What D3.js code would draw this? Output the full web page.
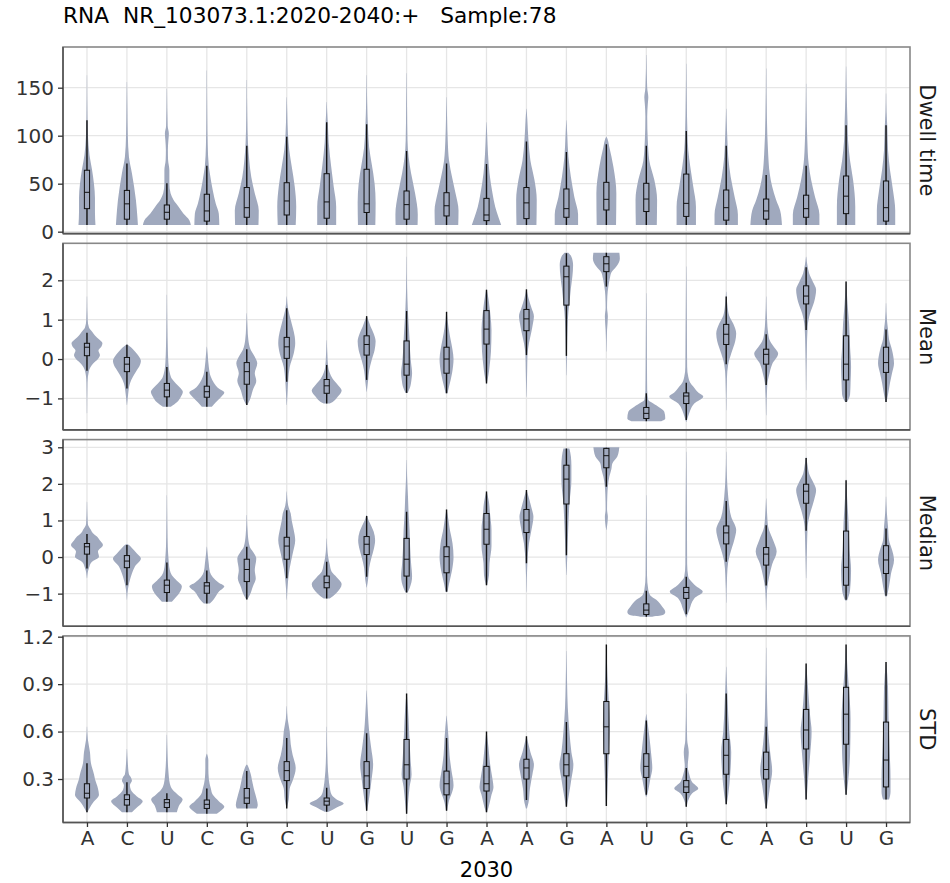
<!DOCTYPE html>
<html>
<head>
<meta charset="utf-8">
<script src="https://cdn.jsdelivr.net/npm/d3@7"></script>
<style>
html,body{margin:0;padding:0;background:#fff;}
svg{display:block;font-family:"DejaVu Sans",sans-serif;}
</style>
</head>
<body>
<svg id="chart" width="950" height="883"></svg>
<script>
// ---------------- DATA ----------------
const titleText = "RNA  NR_103073.1:2020-2040:+   Sample:78";
const xTitle = "2030";
const bases = ["A","C","U","C","G","C","U","G","U","G","A","A","G","A","U","G","C","A","G","U","G"];
const facetNames = ["Dwell time","Mean","Median","STD"];

const dwellTicks = [0,50,100,150];
const meanTicks = [-1,0,1,2];
const medianTicks = [-1,0,1,2,3];
const stdTicks = [0.3,0.6,0.9,1.2];

// box stats: [lower whisker, q1, median, q3, upper whisker]
const dwellBox = [
 [7,24,41,64,116],[7,13,29,43,71],[7,13,20.2,27.8,50.4],[7,11,21.6,39,68.8],[7,15,25,46,89.6],
 [7,17.4,32,51,99],[7,14,31,60.4,114],[7,20,29,65,112],[7,13,28.2,42.4,84],[7,16.4,27,40.6,71],
 [7,11.5,17.4,34.7,70.5],[7,13.6,30,46,94],[7,15,24,44.5,83],[7,22.6,33.7,51.4,91],[7,21,34,50.4,89.6],
 [7,15.9,29.5,60,105],[7,12,25,43.4,89.6],[7,13,21.6,34,59],[7,15,24,38,68.8],[7,18.8,37,58,111],[7,11,25,52.8,111]
];
const meanBox = [
 [-0.3,0.085,0.3,0.4,0.67],[-0.75,-0.32,-0.13,0.04,0.36],[-1.21,-0.96,-0.79,-0.62,-0.2],[-1.21,-0.97,-0.83,-0.69,-0.32],
 [-1.17,-0.64,-0.32,-0.09,0.25],[-0.58,0.017,0.31,0.55,1.29],[-1.13,-0.87,-0.68,-0.52,-0.15],[-0.53,0.1,0.37,0.59,1.09],
 [-0.86,-0.41,-0.13,0.46,1.22],[-0.87,-0.36,0,0.3,1.2],[-0.62,0.38,0.76,1.23,1.76],[0.1,0.72,1.02,1.26,1.77],
 [0.08,1.37,2.09,2.36,2.69],[1.84,2.22,2.42,2.6,2.7],[-1.58,-1.51,-1.38,-1.23,-0.87],[-1.55,-1.13,-0.94,-0.86,-0.6],
 [-0.13,0.37,0.63,0.88,1.59],[-0.66,-0.13,0.12,0.25,0.63],[0.74,1.4,1.6,1.86,2.33],[-1.09,-0.53,-0.13,0.59,1.97],[-1.09,-0.34,-0.09,0.3,0.75]
];
const medianBox = [
 [-0.31,0.08,0.28,0.37,0.63],[-0.77,-0.29,-0.11,0.04,0.33],[-1.22,-0.97,-0.77,-0.63,-0.15],[-1.27,-0.99,-0.79,-0.7,-0.37],
 [-1.16,-0.67,-0.34,-0.06,0.28],[-0.58,-0.06,0.3,0.54,1.28],[-1.13,-0.84,-0.7,-0.52,-0.13],[-0.54,0.07,0.35,0.56,1.12],
 [-0.97,-0.52,-0.06,0.51,1.24],[-0.95,-0.43,0.01,0.28,1.3],[-0.77,0.35,0.76,1.19,1.79],[-0.17,0.67,1.01,1.3,1.83],
 [0.05,1.45,2.13,2.51,2.97],[1.92,2.44,2.77,2.97,2.99],[-1.63,-1.57,-1.45,-1.28,-0.92],[-1.56,-1.13,-0.97,-0.83,-0.54],
 [-0.13,0.36,0.66,0.85,1.53],[-0.78,-0.22,0.08,0.26,0.87],[0.72,1.47,1.8,1.99,2.71],[-1.17,-0.77,-0.28,0.71,2.1],[-1.06,-0.45,-0.08,0.31,0.78]
];
const stdBox = [
 [0.09,0.18,0.21,0.27,0.4],[0.09,0.135,0.17,0.2,0.28],[0.09,0.12,0.15,0.17,0.21],[0.08,0.114,0.14,0.167,0.24],
 [0.114,0.146,0.18,0.24,0.35],[0.114,0.29,0.353,0.41,0.56],[0.093,0.135,0.16,0.18,0.245],[0.1,0.24,0.32,0.41,0.59],
 [0.08,0.3,0.39,0.55,0.84],[0.1,0.2,0.27,0.35,0.56],[0.09,0.224,0.27,0.38,0.6],[0.167,0.3,0.37,0.425,0.57],
 [0.125,0.32,0.39,0.46,0.66],[0.13,0.46,0.63,0.79,1.15],[0.2,0.31,0.38,0.46,0.67],[0.125,0.215,0.25,0.29,0.37],
 [0.14,0.33,0.45,0.55,0.84],[0.114,0.3,0.36,0.47,0.63],[0.17,0.49,0.61,0.74,1.03],[0.2,0.52,0.71,0.88,1.15],[0.17,0.25,0.42,0.66,1.04]
];

// violin outlines: [value, relative density] knots from bottom to top
const dwellViolin = [
 [[7,8.5],[20,8],[35,8],[50,7],[65,5],[80,2.5],[100,1],[120,0.5],[163,0.15]],
 [[7,11],[15,10.5],[33,9],[61,5],[78,2],[100,0.9],[130,0.45],[156,0.15]],
 [[7,24],[12,22.5],[18.7,16.7],[26,11.7],[33,6.7],[40,3.7],[50,2.5],[64,2.5],[75,1.2],[85,1],[95,1.5],[102,2],[110,0.8],[149,0.15]],
 [[7,12.5],[18.7,12],[29,9],[43,6],[61,3],[68,2],[90,0.9],[120,0.45],[168,0.15]],
 [[7,11.7],[22,12],[40,8],[57,4.5],[74,2.5],[92,1.2],[120,0.5],[158,0.15]],
 [[7,9],[26,9.5],[47,8],[68,5],[85,2.5],[102,1.2],[125,0.5],[140,0.15]],
 [[7,9.5],[26,9.5],[47,7],[68,4.5],[93,2],[112,1.2],[125,0.5],[135,0.15]],
 [[7,8.7],[30,9],[50,8],[71,5],[88,2.5],[109,1.3],[135,0.5],[163,0.15]],
 [[7,11],[18,11.2],[40,8.5],[61,4.5],[78,2],[95,0.9],[130,0.45],[165,0.15]],
 [[7,11.7],[22,12],[40,9],[57,5.5],[74,2.5],[95,1.2],[120,0.5],[140,0.15]],
 [[7,14.7],[15,12],[26,8.7],[40,6],[61,3],[81,1.5],[100,0.7],[114,0.15]],
 [[7,10],[33,10.3],[54,8],[74,4],[95,2],[116,0.9],[128,0.15]],
 [[7,11.7],[18,11.7],[36,8],[57,4.5],[78,2],[100,0.9],[116,0.15]],
 [[7,9.7],[40,10],[68,7],[88,3],[97,1],[99,0.15]],
 [[7,10.5],[33,10.8],[54,8],[74,3],[95,1.5],[120,0.9],[133,1.5],[140,2],[150,0.9],[184,0.15]],
 [[7,9.7],[26,9.7],[47,7],[68,4],[85,2],[102,1.2],[140,0.5],[175,0.15]],
 [[7,11.7],[18,11.7],[36,8.5],[57,4.5],[78,2],[95,1.2],[115,0.5],[128,0.15]],
 [[7,15.8],[22,14],[33,10],[47,6],[61,3.5],[81,2],[120,0.7],[170,0.15]],
 [[7,13.3],[18,13.3],[36,9],[54,5],[71,2.5],[95,1.2],[125,0.5],[154,0.15]],
 [[7,9.2],[26,9.2],[54,7],[74,4],[95,2],[112,1.5],[140,0.7],[172,0.15]],
 [[7,9.2],[22,9.2],[43,7],[64,4],[85,2],[109,1.3],[125,0.5],[144,0.15]]
];
const meanViolin = [
 [[-1.38,0.15],[-0.6,0.5],[-0.3,2],[-0.12,6],[0,11],[0.1,13],[0.22,11.5],[0.32,14.5],[0.4,15.5],[0.5,12],[0.6,8],[0.7,5],[0.8,2],[1.0,0.7],[1.59,0.15]],
 [[-1.17,0.15],[-0.9,1.2],[-0.62,3],[-0.45,6],[-0.32,9],[-0.15,13],[-0.05,14],[0.1,11],[0.25,6],[0.3,4],[0.37,0.5]],
 [[-1.21,4],[-1.1,10],[-0.96,14],[-0.83,16],[-0.72,13],[-0.62,9],[-0.5,5],[-0.36,3],[-0.1,1.5],[0.31,0.9],[0.8,0.5],[1.63,0.15]],
 [[-1.21,5],[-1.1,9],[-0.97,14],[-0.85,17.5],[-0.75,12],[-0.6,7],[-0.45,4],[-0.2,2],[0.1,0.9],[0.31,0.15]],
 [[-1.17,0.5],[-1.04,3],[-0.79,6],[-0.55,9.5],[-0.36,8],[-0.11,10.5],[0.1,7],[0.23,4],[0.5,1.5],[0.8,0.7],[1.16,0.15]],
 [[-1.17,0.15],[-0.8,0.9],[-0.53,1.5],[-0.2,3],[0.14,7],[0.4,8.5],[0.57,8],[0.8,6],[1.0,4],[1.25,1.5],[1.59,0.15]],
 [[-1.13,3],[-1.09,6],[-0.96,11],[-0.8,15],[-0.65,11],[-0.5,6],[-0.35,3],[-0.2,1.5],[0.1,0.7],[0.48,0.15]],
 [[-0.83,0.15],[-0.53,1.5],[-0.3,2.5],[-0.03,5],[0.23,8],[0.45,9],[0.65,7],[0.82,4],[1.0,1.5],[1.08,0.15]],
 [[-0.86,1],[-0.75,3],[-0.5,5],[-0.36,5.5],[-0.1,4.5],[0.2,3.5],[0.48,3],[0.9,2],[1.33,1.1],[1.8,0.5],[2.6,0.15]],
 [[-0.87,1],[-0.7,2.5],[-0.36,5.5],[0,7],[0.23,6],[0.5,4],[0.8,2],[1.2,0.15]],
 [[-0.64,0.15],[-0.4,2],[-0.2,3],[0.2,4.5],[0.74,5],[1.1,4],[1.33,3],[1.6,1.5],[1.77,0.15]],
 [[-0.96,0.15],[-0.3,0.7],[0.1,1],[0.4,2.5],[0.7,5],[0.9,6.5],[1.08,7.5],[1.3,5],[1.55,2],[1.77,0.15]],
 [[-0.41,0.15],[0.3,0.7],[0.8,1.2],[1.2,2],[1.42,3],[1.8,4.5],[2.1,6],[2.39,6.7],[2.6,5],[2.7,2]],
 [[0.19,0.15],[0.74,0.7],[1.08,1.5],[1.3,0.7],[1.6,1],[1.84,2],[2.05,3.5],[2.2,5],[2.35,10],[2.55,13.5],[2.7,13]],
 [[-1.58,15],[-1.51,19],[-1.34,18],[-1.21,12],[-1.1,5],[-1.04,2],[-0.8,0.9],[-0.3,0.7],[0.5,0.5],[1.67,0.15]],
 [[-1.6,0.15],[-1.45,2],[-1.3,4],[-1.13,8],[-0.95,17],[-0.85,12],[-0.7,7],[-0.6,4],[-0.45,2],[-0.2,0.9],[0.5,0.7],[1.2,0.5],[2.35,0.15]],
 [[-1.3,0.15],[-0.5,0.7],[-0.13,2],[0.14,5],[0.45,9],[0.65,10],[0.9,7],[1.1,3],[1.3,1.5],[1.71,0.15]],
 [[-1.43,0.15],[-0.66,1.1],[-0.4,3],[-0.13,6],[0.14,12],[0.3,8],[0.45,4],[0.65,2],[1.0,0.9],[1.59,0.15]],
 [[-0.79,0.15],[0.2,0.7],[0.82,1.5],[1.16,4],[1.45,8],[1.76,10],[1.95,7],[2.18,3],[2.35,1.5],[2.6,0.15]],
 [[-1.09,1],[-0.9,4],[-0.6,4.5],[-0.2,5],[0.3,4],[0.91,3],[1.4,1.5],[1.97,0.15]],
 [[-1.09,0.5],[-0.9,2],[-0.6,4],[-0.36,6],[-0.11,8],[0.23,6],[0.5,3],[0.75,2],[1.0,0.9],[1.42,0.15]]
];
const medianViolin = [
 [[-0.58,0.15],[-0.3,2],[-0.13,5],[0.01,12],[0.15,11],[0.33,16],[0.45,13],[0.56,10],[0.65,6],[0.74,4],[0.9,0.9],[1.51,0.15]],
 [[-1.17,0.15],[-0.8,1.5],[-0.63,3],[-0.45,5],[-0.26,8],[-0.04,14],[0.1,10],[0.25,5],[0.33,2],[0.36,0.15]],
 [[-1.22,5],[-1.1,9],[-1.0,12],[-0.8,15],[-0.65,10],[-0.5,5],[-0.36,3],[0,1.5],[0.28,0.9],[0.8,0.5],[1.69,0.15]],
 [[-1.27,3],[-1.15,7],[-0.95,12],[-0.8,17.5],[-0.7,12],[-0.55,6],[-0.4,3],[-0.2,2],[0.28,0.15]],
 [[-1.16,0.5],[-1.04,3],[-0.81,6],[-0.58,9],[-0.36,8],[-0.04,9.5],[0.15,6],[0.28,3],[0.6,1.1],[1.15,0.15]],
 [[-1.17,0.15],[-0.6,1.5],[-0.3,3],[0.1,6],[0.46,8.5],[0.74,7],[1.0,5],[1.19,4],[1.4,1.5],[1.79,0.15]],
 [[-1.13,3],[-1.0,9],[-0.74,15],[-0.55,10],[-0.4,5],[-0.2,3],[0,1.5],[0.51,0.15]],
 [[-0.83,0.15],[-0.6,1.5],[-0.3,2.5],[0,5],[0.2,7],[0.46,8.5],[0.7,7],[0.83,5],[1.0,2],[1.15,0.15]],
 [[-0.97,1],[-0.85,3],[-0.54,5.5],[-0.17,4.5],[0.3,3.5],[0.74,3],[1.2,2],[1.65,1.4],[2.2,0.5],[2.65,0.15]],
 [[-0.95,1],[-0.73,2.5],[-0.36,5.5],[0,7],[0.37,6],[0.8,3],[1.0,2],[1.3,0.15]],
 [[-0.77,0.5],[-0.5,2.5],[-0.17,3],[0.3,5],[0.74,5],[1.2,3.5],[1.5,2.5],[1.8,0.15]],
 [[-0.95,0.15],[-0.17,0.9],[0.37,2.5],[0.74,5],[1.1,7],[1.3,5.5],[1.46,4],[1.83,0.15]],
 [[-0.49,0.15],[0.05,0.9],[0.9,2],[1.45,3],[2.1,5],[2.5,5],[2.75,4.5],[2.97,3]],
 [[0.74,0.15],[1.1,1.5],[1.3,0.7],[1.7,1],[1.92,1.5],[2.2,3],[2.4,5],[2.56,6],[2.75,11],[2.9,12.5],[3.0,13]],
 [[-1.63,6],[-1.58,17],[-1.5,19],[-1.36,16],[-1.17,10],[-1.05,4],[-0.9,2],[-0.5,0.7],[0.5,0.5],[1.69,0.15]],
 [[-1.65,0.15],[-1.45,3],[-1.13,8],[-0.95,16.5],[-0.8,10],[-0.72,7],[-0.54,2],[-0.2,0.9],[1.0,0.7],[2.88,0.15]],
 [[-1.25,0.15],[-0.5,0.9],[-0.13,2],[0.1,4],[0.46,8],[0.74,10],[1.1,5],[1.65,2],[2.2,0.7],[2.88,0.15]],
 [[-1.45,0.15],[-0.9,0.9],[-0.54,3],[-0.2,6],[0.15,10.5],[0.46,7],[0.83,2],[1.2,0.9],[1.6,0.15]],
 [[-0.58,0.15],[0.3,0.9],[0.83,1.5],[1.19,4],[1.56,8],[1.83,10],[2.05,7],[2.28,3],[2.5,1.5],[2.74,0.15]],
 [[-1.19,1],[-0.9,4],[-0.36,5],[0.2,3.5],[0.95,2.5],[1.6,1.1],[2.12,0.15]],
 [[-1.08,1],[-0.8,3],[-0.45,5],[-0.08,8],[0.2,6],[0.46,3],[0.83,2],[1.2,0.9],[1.65,0.15]]
];
const stdViolin = [
 [[0.09,0.5],[0.12,3],[0.15,6],[0.2,12],[0.24,11],[0.3,8],[0.33,7],[0.4,4],[0.47,3],[0.55,0.9],[0.63,0.15]],
 [[0.09,5],[0.12,10],[0.16,15.8],[0.19,10],[0.23,4],[0.26,3],[0.29,5],[0.31,4],[0.33,2],[0.4,0.9],[0.49,0.15]],
 [[0.09,10],[0.13,12],[0.17,15.8],[0.2,11],[0.23,6],[0.27,3],[0.35,1.5],[0.45,0.7],[0.58,0.15]],
 [[0.08,10],[0.1,14],[0.125,17.5],[0.16,12],[0.2,6],[0.24,4],[0.3,2],[0.37,1.5],[0.42,1.5],[0.46,0.15]],
 [[0.114,10],[0.135,11],[0.17,10],[0.24,7],[0.3,5],[0.33,4],[0.37,2],[0.39,0.5]],
 [[0.114,0.15],[0.17,2],[0.24,3],[0.29,6],[0.37,9],[0.45,6],[0.52,4],[0.6,3],[0.68,0.9],[0.76,0.15]],
 [[0.093,2],[0.12,10],[0.145,17],[0.17,10],[0.2,5],[0.25,3],[0.3,2],[0.4,0.9],[0.63,0.15]],
 [[0.1,0.5],[0.2,3],[0.3,5],[0.39,6.5],[0.5,4.5],[0.6,2.5],[0.7,1.4],[0.86,0.15]],
 [[0.08,0.5],[0.15,1.5],[0.25,3],[0.33,5],[0.42,4],[0.6,2.5],[0.75,1.4],[0.84,0.15]],
 [[0.1,0.5],[0.15,2],[0.26,7],[0.35,5],[0.45,3],[0.56,2],[0.7,0.15]],
 [[0.09,0.5],[0.12,2],[0.2,5],[0.25,7],[0.3,6],[0.4,3.5],[0.5,2],[0.6,0.15]],
 [[0.114,0.5],[0.15,2],[0.24,3.5],[0.33,6],[0.39,7.5],[0.47,4],[0.57,0.15]],
 [[0.125,0.5],[0.2,2.5],[0.3,5],[0.39,7],[0.47,5],[0.6,3],[0.75,1.4],[0.9,0.7],[1.11,0.15]],
 [[0.13,0.5],[0.3,1.5],[0.47,2.5],[0.64,3.5],[0.79,2.5],[0.95,1.1],[1.15,0.15]],
 [[0.19,0.5],[0.23,2],[0.3,4],[0.37,6],[0.45,5],[0.57,3],[0.71,0.15]],
 [[0.125,0.5],[0.18,3],[0.21,6],[0.24,12],[0.28,6],[0.33,3],[0.38,1.5],[0.47,2.5],[0.55,0.9],[0.84,0.15]],
 [[0.14,0.5],[0.2,2],[0.33,4],[0.47,5],[0.6,3],[0.8,1.4],[1.01,0.15]],
 [[0.114,0.5],[0.17,2],[0.26,4],[0.35,6],[0.47,4],[0.6,2],[0.8,0.9],[1.13,0.15]],
 [[0.17,0.5],[0.3,2],[0.45,4],[0.6,5.5],[0.7,4],[0.87,2],[1.03,0.15]],
 [[0.2,0.5],[0.28,2],[0.46,4],[0.68,4.5],[0.86,3],[1.0,1.4],[1.15,0.15]],
 [[0.17,3],[0.22,4.5],[0.3,4.5],[0.5,3.5],[0.7,2.5],[0.88,2],[1.04,0.15]]
];

// ---------------- LAYOUT ----------------
const svg = d3.select("#chart");
const left = 63, right = 910, top0 = 47, bottomAll = 822.5, gap = 9.7;
const ph = (bottomAll - top0 - 3 * gap) / 4;

const facets = [
  {name: facetNames[0], box: dwellBox, vio: dwellViolin, ticks: dwellTicks, domain: [-2, 192.4], fmt: d3.format("d")},
  {name: facetNames[1], box: meanBox, vio: meanViolin, ticks: meanTicks, domain: [-1.80, 2.94], fmt: d3.format("d")},
  {name: facetNames[2], box: medianBox, vio: medianViolin, ticks: medianTicks, domain: [-1.89, 3.21], fmt: d3.format("d")},
  {name: facetNames[3], box: stdBox, vio: stdViolin, ticks: stdTicks, domain: [0.025, 1.205], fmt: d3.format(".1f")}
];

const idx = d3.range(bases.length);
const x = d3.scalePoint().domain(idx).range([left, right]).padding(0.6);
const wScale = d3.scaleLinear().domain([0, 40]).range([0, x.step()]);
const boxHalf = x.step() * 0.065;

const violinFill = "#a0a9be";
const gridColor = "#e6e6e6";
const textColor = "#333333";

// vertical grid lines spanning all facets
svg.append("g").selectAll("line").data(idx).join("line")
  .attr("x1", d => x(d)).attr("x2", d => x(d))
  .attr("y1", top0).attr("y2", bottomAll)
  .attr("stroke", gridColor).attr("stroke-width", 1.3);

facets.forEach((f, fi) => {
  const pt = top0 + fi * (ph + gap), pb = pt + ph;
  const y = d3.scaleLinear().domain(f.domain).range([pb, pt]);
  const g = svg.append("g");

  // horizontal grid
  g.selectAll("line.hg").data(f.ticks).join("line").attr("class", "hg")
    .attr("x1", left).attr("x2", right)
    .attr("y1", d => y(d)).attr("y2", d => y(d))
    .attr("stroke", gridColor).attr("stroke-width", 1.3);

  const clipId = "clip" + fi;
  svg.append("clipPath").attr("id", clipId).append("rect")
    .attr("x", left).attr("y", pt).attr("width", right - left).attr("height", ph);
  const marks = g.append("g").attr("clip-path", `url(#${clipId})`);

  // violins
  f.vio.forEach((knots, i) => {
    const cx = x(i);
    const area = d3.area()
      .curve(d3.curveMonotoneY)
      .y(d => y(d[0]))
      .x0(d => cx - wScale(d[1]))
      .x1(d => cx + wScale(d[1]));
    marks.append("path").attr("d", area(knots))
      .attr("fill", violinFill);
  });

  // boxes
  f.box.forEach((b, i) => {
    const cx = x(i);
    const bg = marks.append("g");
    bg.append("line").attr("x1", cx).attr("x2", cx).attr("y1", y(b[0])).attr("y2", y(b[1]))
      .attr("stroke", "#111").attr("stroke-width", 1.4);
    bg.append("line").attr("x1", cx).attr("x2", cx).attr("y1", y(b[3])).attr("y2", y(b[4]))
      .attr("stroke", "#111").attr("stroke-width", 1.4);
    bg.append("rect").attr("x", cx - boxHalf).attr("width", boxHalf * 2)
      .attr("y", y(b[3])).attr("height", Math.max(0.5, y(b[1]) - y(b[3])))
      .attr("fill", "none").attr("stroke", "#111").attr("stroke-width", 1);
    bg.append("line").attr("x1", cx - boxHalf).attr("x2", cx + boxHalf)
      .attr("y1", y(b[2])).attr("y2", y(b[2]))
      .attr("stroke", "#111").attr("stroke-width", 1);
  });

  // panel border
  g.append("rect").attr("x", left).attr("y", pt).attr("width", right - left).attr("height", ph)
    .attr("fill", "none").attr("stroke", "#888").attr("stroke-width", 1.6);
  g.append("line").attr("x1", left).attr("x2", left).attr("y1", pt).attr("y2", pb)
    .attr("stroke", "#555").attr("stroke-width", 1.6);
  g.append("line").attr("x1", left).attr("x2", right).attr("y1", pb).attr("y2", pb)
    .attr("stroke", "#555").attr("stroke-width", 1.6);

  // y axis
  const yAxis = d3.axisLeft(y).tickValues(f.ticks).tickFormat(f.fmt).tickSize(5).tickPadding(4);
  const ax = g.append("g").attr("transform", `translate(${left},0)`).call(yAxis);
  ax.select(".domain").remove();
  ax.selectAll(".tick line").attr("stroke", "#333").attr("stroke-width", 1.3);
  ax.selectAll(".tick text").attr("fill", textColor)
    .style("font-size", "20px").style("font-family", "DejaVu Sans");

  // strip label
  svg.append("text")
    .attr("transform", `translate(920,${(pt + pb) / 2}) rotate(90)`)
    .attr("text-anchor", "middle")
    .attr("fill", "#1a1a1a")
    .style("font-size", "21px")
    .text(f.name);

  // x axis on last facet
  if (fi === facets.length - 1) {
    const xAxis = d3.axisBottom(x).tickFormat(i => bases[i]).tickSize(4.5).tickPadding(4);
    const xa = g.append("g").attr("transform", `translate(0,${pb})`).call(xAxis);
    xa.select(".domain").remove();
    xa.selectAll(".tick line").attr("stroke", "#333").attr("stroke-width", 1.3);
    xa.selectAll(".tick text").attr("fill", textColor)
      .style("font-size", "20px").style("font-family", "DejaVu Sans");
  }
});

// title
svg.append("text").attr("x", 63).attr("y", 23)
  .style("white-space", "pre").attr("xml:space", "preserve")
  .style("font-size", "21.7px").attr("fill", "#000")
  .text(titleText);

// x title
svg.append("text").attr("x", (left + right) / 2).attr("y", 877)
  .attr("text-anchor", "middle").style("font-size", "21px").attr("fill", "#000")
  .text(xTitle);
</script>
</body>
</html>
